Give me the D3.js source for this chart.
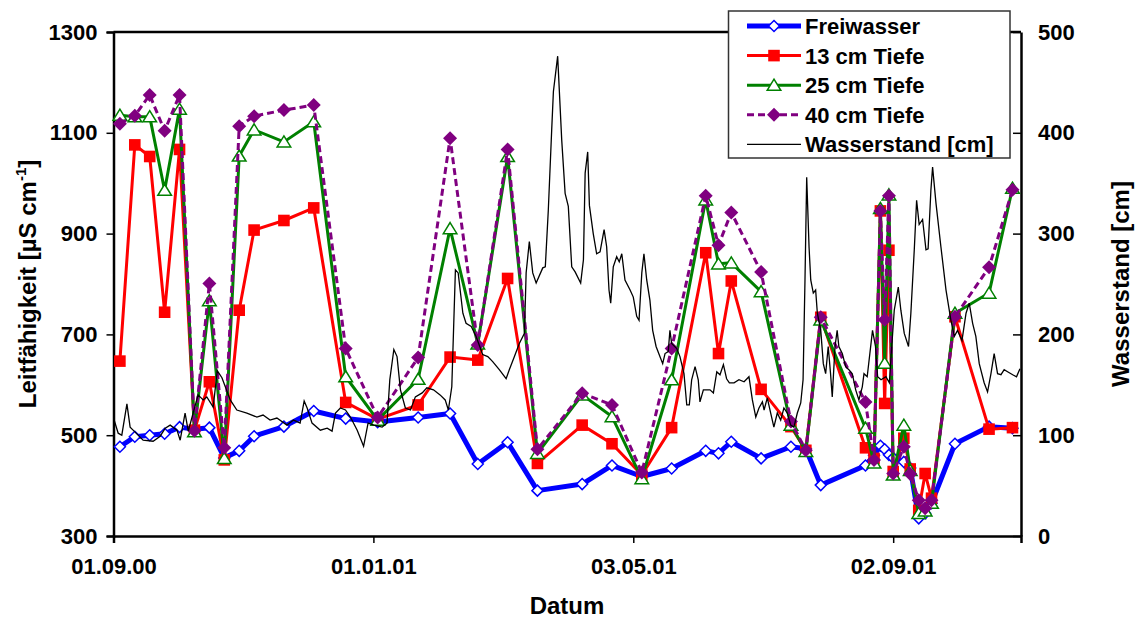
<!DOCTYPE html>
<html>
<head>
<meta charset="utf-8">
<script src="https://cdn.jsdelivr.net/npm/d3@7/dist/d3.min.js"></script>
<style>
  body { margin: 0; background: #fff; }
  text { font-family: "Liberation Sans", Arial, sans-serif; font-weight: bold; fill: #000; }
</style>
</head>
<body>
<svg id="chart" width="1137" height="621"></svg>
<script>
// Probenahmetermine (gemeinsam fuer alle Messtiefen)
const termine = [
  "2000-09-04", "2000-09-11", "2000-09-18", "2000-09-25", "2000-10-02", "2000-10-09",
  "2000-10-16", "2000-10-23", "2000-10-30", "2000-11-06", "2000-11-20", "2000-12-04",
  "2000-12-19", "2001-01-03", "2001-01-22", "2001-02-06", "2001-02-19", "2001-03-05",
  "2001-03-19", "2001-04-09", "2001-04-23", "2001-05-07", "2001-05-21", "2001-06-06",
  "2001-06-12", "2001-06-18", "2001-07-02", "2001-07-16", "2001-07-23", "2001-07-30",
  "2001-08-20", "2001-08-24", "2001-08-27", "2001-08-29", "2001-08-31", "2001-09-02",
  "2001-09-07", "2001-09-10", "2001-09-14", "2001-09-17", "2001-09-20", "2001-10-01",
  "2001-10-17", "2001-10-28"
];
const freiwasser = [477, 497, 500, 503, 516, 512, 515, 455, 469, 498, 517, 548, 533, 526, 535, 543, 443, 486, 390, 403, 440, 418, 434, 469, 464, 487, 454, 477, 473, 401, 440, 460, 479, 472, 461, 455, 447, 435, 335, 345, 365, 483, 517, 514];
const tiefe13 = [647, 1076, 1053, 744, 1067, 510, 606, 451, 748, 907, 926, 951, 565, 532, 560, 655, 649, 811, 444, 520, 483, 421, 515, 862, 662, 806, 591, 517, 470, 734, 475, 454, 945, 563, 867, 428, 494, 433, 351, 424, 375, 735, 512, 515];
const tiefe25 = [1135, 1132, 1132, 986, 1147, 507, 767, 454, 1054, 1106, 1082, 1122, 616, 530, 611, 910, 681, 1053, 464, 580, 537, 414, 610, 967, 840, 842, 785, 520, 468, 729, 514, 445, 950, 643, 977, 421, 520, 430, 345, 350, 365, 742, 782, 990];
const tiefe40 = [1118, 1134, 1175, 1104, 1175, 509, 801, 475, 1113, 1133, 1145, 1155, 672, 535, 654, 1089, 679, 1067, 472, 583, 560, 426, 672, 975, 877, 942, 824, 527, 470, 734, 566, 451, 945, 729, 975, 424, 477, 423, 371, 355, 371, 735, 833, 987];

// Wasserstand: [Tage seit 01.09.2000, cm]
const wasserstand = [
  [0, 117], [2.2, 102], [3.9, 100], [6.3, 131], [7.8, 108], [9.2, 105], [13.9, 95], [18.6, 94],
  [21.9, 99], [24.3, 107], [26.6, 110], [29.8, 105], [31.3, 95], [33.6, 122], [35.1, 104], [37.4, 122],
  [39.7, 140], [42.1, 135], [43.8, 138], [46.8, 128], [48.7, 164], [50.9, 157], [54.8, 135], [57.9, 125],
  [62.6, 122], [67.3, 118], [70.2, 120], [73.5, 115], [76.7, 117], [81.4, 110], [84.5, 115], [87.6, 112],
  [89.5, 134], [90.9, 127], [93.2, 112], [97.1, 105], [100.3, 107], [102.6, 104], [104.2, 122], [106.5, 127],
  [108.9, 125], [111.2, 118], [114.4, 105], [117.4, 89], [119.5, 112], [122.2, 110], [126.1, 108], [128.4, 112],
  [129.7, 155], [131.6, 185], [133.1, 178], [134.7, 145], [137, 127], [139.4, 125], [141.7, 138], [144.9, 142],
  [147.1, 147], [150.2, 145], [153.3, 140], [155.7, 135], [157.2, 125], [158.8, 148], [160.5, 264], [161.8, 261],
  [164, 221], [165.5, 211], [167.9, 208], [170.2, 198], [173.3, 180], [175.7, 178], [178, 173], [181.1, 165],
  [184.3, 156], [185.8, 165], [188.2, 178], [190.5, 191], [192.9, 201], [193.7, 261], [195.2, 292], [196.8, 261],
  [198.4, 251], [201.5, 266], [202.7, 267], [204.1, 323], [205.7, 403], [206.5, 441], [208.5, 476], [210.4, 393],
  [212, 340], [213.5, 327], [215.1, 267], [216.7, 262], [219.3, 251], [220.6, 274], [221.4, 360], [222.6, 381],
  [223.4, 328], [225.2, 300], [226.8, 280], [228.4, 282], [230.3, 304], [231.5, 287], [232.6, 244], [233.4, 231],
  [234.6, 267], [236.2, 277], [237.4, 272], [238.6, 280], [240.1, 254], [242.5, 244], [244, 237], [245.6, 218],
  [246.7, 214], [248, 261], [249, 280], [250.3, 254], [251.8, 234], [253.1, 204], [254.7, 188], [256.5, 178],
  [257.8, 171], [258.9, 181], [260.4, 183], [261.2, 204], [262, 191], [264.4, 186], [265.9, 178], [267.8, 161],
  [269.1, 130], [270.3, 130], [271.4, 155], [273, 168], [274.5, 155], [275.3, 133], [276.9, 145], [280, 145],
  [281.6, 142], [283.2, 163], [284.7, 160], [286.3, 170], [287.8, 156], [289.1, 152], [291.3, 152], [293.6, 155],
  [296, 153], [298.3, 158], [299.9, 135], [301.5, 118], [303, 127], [304.6, 133], [305.4, 125], [306.9, 137],
  [308.5, 122], [310, 108], [311.6, 122], [313.2, 115], [314.7, 127], [316.3, 122], [317.9, 110], [319.4, 108],
  [321, 122], [322.6, 132], [323.7, 155], [324.6, 254], [325.4, 356], [326.5, 287], [327.3, 254], [328.5, 241],
  [329.6, 244], [330.4, 221], [332, 204], [333.2, 171], [334.3, 161], [335.5, 188], [336.6, 161], [337.4, 138],
  [338.7, 188], [339.7, 204], [340.5, 188], [342.1, 181], [343.7, 168], [345.2, 165], [346.8, 161], [348.4, 145],
  [349.9, 135], [351.5, 148], [352.3, 161], [353.8, 158], [356.3, 204], [357.7, 188], [358.7, 158], [360.3, 155],
  [362.6, 158], [364.2, 152], [365, 178], [366.5, 224], [368.4, 247], [369.6, 224], [371.2, 201], [373.2, 188],
  [374.3, 221], [375.9, 284], [377, 333], [378.2, 309], [379.8, 314], [381.4, 284], [382.4, 285], [383.7, 343],
  [384.5, 366], [386.1, 330], [388.4, 287], [390.8, 244], [393.1, 214], [394.7, 198], [396.2, 204], [398.3, 194],
  [400.2, 221], [401.7, 231], [403.3, 211], [404.8, 198], [406.4, 171], [408.7, 152], [410.3, 143], [411.9, 161],
  [413.4, 181], [415, 161], [416.6, 160], [418.1, 165], [419.7, 163], [422.1, 160], [423.9, 158], [425.5, 166]
];

const achseLinks = [300, 500, 700, 900, 1100, 1300];
const achseRechts = [0, 100, 200, 300, 400, 500];
const datumsTicks = ["2000-09-01", "2001-01-01", "2001-05-03", "2001-09-02"];

const parse = d3.utcParse("%Y-%m-%d");
const start = parse("2000-09-01");
const tagZuDatum = (t) => new Date(start.getTime() + t * 864e5);

const plotL = 113.5, plotR = 1021, plotT = 32, plotB = 536;

const svg = d3.select("#chart");

const x = d3.scaleUtc().domain([start, parse("2001-11-01")]).range([plotL, plotR]);
const y = d3.scaleLinear().domain([300, 1300]).range([plotB, plotT]);
const y2 = d3.scaleLinear().domain([0, 500]).range([plotB, plotT]);

const termineD = termine.map(parse);

// Achsen
const xAxis = svg.append("g")
  .attr("transform", `translate(0,${plotB})`)
  .call(d3.axisBottom(x).tickValues(datumsTicks.map(parse)).tickFormat(d3.utcFormat("%d.%m.%y")).tickSize(7).tickPadding(15));
const yAxis = svg.append("g")
  .attr("transform", `translate(${plotL},0)`)
  .call(d3.axisLeft(y).tickValues(achseLinks).tickFormat(d3.format("d")).tickSize(7).tickPadding(9));
const y2Axis = svg.append("g")
  .attr("transform", `translate(${plotR},0)`)
  .call(d3.axisRight(y2).tickValues(achseRechts).tickFormat(d3.format("d")).tickSizeInner(-8).tickSizeOuter(0).tickPadding(17));

[xAxis, yAxis, y2Axis].forEach((a) => {
  a.select(".domain").attr("stroke", "#000").attr("stroke-width", 2.5);
  a.selectAll(".tick line").attr("stroke", "#000").attr("stroke-width", 1.5);
  a.selectAll(".tick text").attr("font-size", 22).attr("font-family", "Liberation Sans, Arial, sans-serif").attr("font-weight", "bold");
});

// obere Rahmenlinie
svg.append("line")
  .attr("x1", plotL).attr("x2", plotR)
  .attr("y1", plotT).attr("y2", plotT)
  .attr("stroke", "#000").attr("stroke-width", 2.5);

// Achsentitel
svg.append("text")
  .attr("x", 567).attr("y", 614)
  .attr("text-anchor", "middle")
  .attr("font-size", 24)
  .text("Datum");

const titelL = svg.append("text")
  .attr("transform", "translate(36,284) rotate(-90)")
  .attr("text-anchor", "middle")
  .attr("font-size", 24);
titelL.append("tspan").text("Leitfähigkeit [µS cm");
titelL.append("tspan").attr("font-size", 15).attr("dy", -10).text("-1");
titelL.append("tspan").attr("dy", 10).text("]");

svg.append("text")
  .attr("transform", "translate(1129,284) rotate(-90)")
  .attr("text-anchor", "middle")
  .attr("font-size", 24)
  .text("Wasserstand [cm]");

// Marker
const raute = (r) => `M0,${-r}L${r},0L0,${r}L${-r},0Z`;
const quadrat = (r) => `M${-r},${-r}H${r}V${r}H${-r}Z`;
const dreieck = (r) => `M0,${-r}L${r + 0.8},${r * 0.85}L${-r - 0.8},${r * 0.85}Z`;

const serien = [
  { name: "Freiwasser", werte: freiwasser, farbe: "#0000ff", breite: 5, dash: null, pfad: raute(5.5), fill: "#fff", stroke: "#0000ff" },
  { name: "13 cm Tiefe", werte: tiefe13, farbe: "#ff0000", breite: 3, dash: null, pfad: quadrat(5.8), fill: "#ff0000", stroke: "none" },
  { name: "25 cm Tiefe", werte: tiefe25, farbe: "#008000", breite: 3, dash: null, pfad: dreieck(6), fill: "#fff", stroke: "#008000" },
  { name: "40 cm Tiefe", werte: tiefe40, farbe: "#800080", breite: 3, dash: "7,4", pfad: raute(7), fill: "#800080", stroke: "none" }
];

const linie = d3.line().x((d) => x(d[0])).y((d) => y(d[1]));
const linie2 = d3.line().x((d) => x(tagZuDatum(d[0]))).y((d) => y2(d[1]));

const plot = svg.append("g").attr("id", "plot");

serien.forEach((s) => {
  const pts = termineD.map((t, i) => [t, s.werte[i]]);
  plot.append("path")
    .datum(pts)
    .attr("fill", "none")
    .attr("stroke", s.farbe)
    .attr("stroke-width", s.breite)
    .attr("stroke-linejoin", "round")
    .attr("stroke-dasharray", s.dash)
    .attr("d", linie);
  plot.selectAll(null)
    .data(pts)
    .enter()
    .append("path")
    .attr("transform", (d) => `translate(${x(d[0])},${y(d[1])})`)
    .attr("d", s.pfad)
    .attr("fill", s.fill)
    .attr("stroke", s.stroke)
    .attr("stroke-width", 1.5);
});

plot.append("path")
  .datum(wasserstand)
  .attr("fill", "none")
  .attr("stroke", "#000")
  .attr("stroke-width", 1.3)
  .attr("d", linie2);

// Legende
const leg = svg.append("g").attr("id", "legend");
leg.append("rect")
  .attr("x", 728.5).attr("y", 11)
  .attr("width", 281.5).attr("height", 147)
  .attr("fill", "#fff")
  .attr("stroke", "#333")
  .attr("stroke-width", 1.5);

const legEintraege = [...serien, { name: "Wasserstand [cm]", farbe: "#000", breite: 1.3, dash: null, pfad: null }];
legEintraege.forEach((s, i) => {
  const cy = 26 + i * 29.6;
  leg.append("line")
    .attr("x1", 747).attr("x2", 801)
    .attr("y1", cy).attr("y2", cy)
    .attr("stroke", s.farbe)
    .attr("stroke-width", s.breite)
    .attr("stroke-dasharray", s.dash);
  if (s.pfad) {
    leg.append("path")
      .attr("transform", `translate(774,${cy})`)
      .attr("d", s.pfad)
      .attr("fill", s.fill)
      .attr("stroke", s.stroke)
      .attr("stroke-width", 1.5);
  }
  leg.append("text")
    .attr("x", 805).attr("y", cy + 8)
    .attr("font-size", 22)
    .text(s.name);
});
</script>
</body>
</html>
